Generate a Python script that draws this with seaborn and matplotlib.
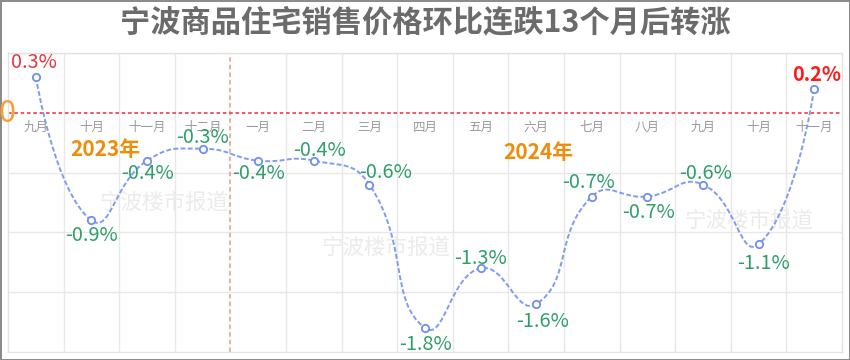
import numpy as np
import pandas as pd
import matplotlib
matplotlib.use("Agg")
import matplotlib.pyplot as plt
from matplotlib.path import Path
from matplotlib.patches import PathPatch
import seaborn as sns

# ---- data ----
months = ["九月", "十月", "十一月", "十二月", "一月", "二月", "三月", "四月",
          "五月", "六月", "七月", "八月", "九月", "十月", "十一月"]
mom_change = [0.3, -0.9, -0.4, -0.3, -0.4, -0.4, -0.6, -1.8,
              -1.3, -1.6, -0.7, -0.7, -0.6, -1.1, 0.2]
value_labels = ["0.3%", "-0.9%", "-0.4%", "-0.3%", "-0.4%", "-0.4%", "-0.6%", "-1.8%",
                "-1.3%", "-1.6%", "-0.7%", "-0.7%", "-0.6%", "-1.1%", "0.2%"]
year_labels = ["2023年", "2024年"]
title = "宁波商品住宅销售价格环比连跌13个月后转涨"
watermark = "宁波楼市报道"

# ---- layout (pixel offsets of value labels) ----
label_offsets = [(-2, 14), (0, -15), (0, -13), (0, 11), (0, -13), (6, 10), (16, 12),
                 (0, -16), (0, 10), (6, -17), (-3, 14), (1, -16), (3, 11), (5, -19), (2, 14)]

sns.set_theme(style="white")
plt.rcParams['font.family'] = ['Noto Sans CJK SC', 'DejaVu Sans']

df = pd.DataFrame({"idx": np.arange(len(months)), "month": months, "val": mom_change})

fig = plt.figure(figsize=(8.5, 3.6), dpi=100, linewidth=2, edgecolor="#8c8c8c")
ax = fig.add_axes([8 / 850, 1 - 352 / 360, 834 / 850, 299 / 360])
ax.set_xlim(-0.5, len(months) - 0.5)
ax.set_ylim(-2.0, 0.5)

# grid
for xb in np.arange(0.5, len(months) - 0.5, 1.0):
    if xb == 3.5:
        ax.axvline(xb, color="#e79a8a", lw=1.1, ls=(0, (3, 2)), zorder=1)
    else:
        ax.axvline(xb, color="#e8e8e8", lw=1.0, zorder=0)
for yb in np.arange(-1.5, 0.6, 0.5):
    if abs(yb) > 1e-9:
        ax.axhline(yb, color="#e8e8e8", lw=1.0, zorder=0)
ax.axhline(0, color="#f04a5a", lw=1.3, ls=(0, (2, 1.5)), zorder=1)
for s in ax.spines.values():
    s.set_color("#e2e2e2")
    s.set_linewidth(1.0)
ax.set_xticks([])
ax.set_yticks([])

# watermarks
for (wx, wy) in [(2.3, -0.75), (6.3, -1.13), (12.83, -0.9)]:
    ax.text(wx, wy, watermark, color="#ebebeb", fontsize=15.5, ha="center", va="center", zorder=0)

# smooth curve (ECharts-like bezier) in data coords
xs = df["idx"].to_numpy(dtype=float)
ys = df["val"].to_numpy(dtype=float)
sx, sy = 55.6, 119.6
smooth = 0.5
verts = [(xs[0], ys[0])]
codes = [Path.MOVETO]
cp0 = (xs[0], ys[0])
n = len(xs)
for i in range(1, n):
    x, y = xs[i], ys[i]
    if i == n - 1:
        ncp = (x, y)
        vx = vy = 0.0
        r = 0.5
    else:
        vx = xs[i + 1] - xs[i - 1]
        vy = ys[i + 1] - ys[i - 1]
        lp = np.hypot((x - xs[i - 1]) * sx, (y - ys[i - 1]) * sy)
        ln = np.hypot((xs[i + 1] - x) * sx, (ys[i + 1] - y) * sy)
        r = ln / (ln + lp)
        ncp = (x - vx * smooth * (1 - r), y - vy * smooth * (1 - r))
    verts += [cp0, ncp, (x, y)]
    codes += [Path.CURVE4] * 3
    cp0 = (x + vx * smooth * r, y + vy * smooth * r)
ax.add_patch(PathPatch(Path(verts, codes), fill=False, edgecolor="#7f9cf2",
                       lw=1.4, ls=(0, (2.5, 1.2)), zorder=3))

sns.scatterplot(data=df, x="idx", y="val", ax=ax, s=28, marker="o",
                facecolor="white", edgecolor="#6f8ef0", linewidth=1.3, zorder=4, legend=False)
ax.set_xlabel("")
ax.set_ylabel("")

# month labels on zero line
for i, m in enumerate(months):
    ax.text(i, -0.125, m, color="#9a9a9a", fontsize=9, ha="center", va="center", zorder=2)

# value labels
for i, (v, t) in enumerate(zip(mom_change, value_labels)):
    dx, dy = label_offsets[i]
    if v > 0:
        color = "#ff1a1a" if i == n - 1 else "#e8363c"
        weight = "bold" if i == n - 1 else "normal"
    else:
        color = "#2f9e6a"
        weight = "normal"
    ax.annotate(t, (i, v), xytext=(dx, dy), textcoords="offset pixels",
                ha="center", va="center", color=color, fontsize=14.3,
                fontweight=weight, zorder=5)

# year labels
ax.text(1.26, -0.31, year_labels[0], color="#f08c0a", fontsize=15, fontweight="bold",
        ha="center", va="center", zorder=5)
ax.text(9.03, -0.335, year_labels[1], color="#f08c0a", fontsize=15, fontweight="bold",
        ha="center", va="center", zorder=5)

# zero marker on the left
fig.text(7 / 850, 1 - 113 / 360, "0", color="#f2a23a", fontsize=22, fontweight="light",
         ha="center", va="center")

fig.text(0.5, 1 - 22 / 360, title, color="#6b6b6b", fontsize=21.8, fontweight="bold",
         ha="center", va="center")

fig.savefig("out.png", dpi=100, edgecolor=fig.get_edgecolor())
